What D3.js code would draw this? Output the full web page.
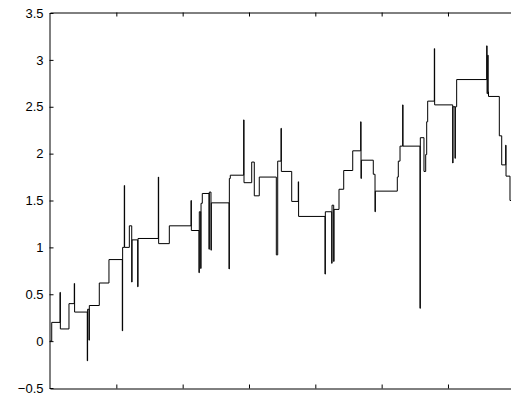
<!DOCTYPE html>
<html>
<head>
<meta charset="utf-8">
<script src="https://cdn.jsdelivr.net/npm/d3@7.9.0/dist/d3.min.js"></script>
<style>
  html, body { margin: 0; padding: 0; background: #fff; overflow: hidden; }
  svg { display: block; font-family: "Liberation Sans", Arial, Helvetica, sans-serif; }
</style>
</head>
<body>
<div id="chart"></div>
<script>
// step signal: time (breakpoints) and value held from that time on
const stepT = [
  0, 0.026, 0.151, 0.156, 0.286, 0.366, 0.371, 0.562, 0.567, 0.588, 0.593,
  0.743, 0.889, 1.090, 1.095, 1.120, 1.125, 1.196, 1.232, 1.237, 1.322, 1.327,
  1.633, 1.638, 1.799, 2.126, 2.131, 2.246, 2.251, 2.272, 2.277, 2.296,
  2.397, 2.402, 2.427, 2.432, 2.699, 2.704, 2.718, 2.920, 2.925, 3.041,
  3.080, 3.155, 3.412, 3.433, 3.483, 3.488, 3.644, 3.743, 3.748,
  4.146, 4.151, 4.247, 4.252, 4.277, 4.282, 4.357, 4.428, 4.564,
  4.684, 4.689, 4.694, 4.874, 4.900, 4.905, 5.236, 5.251, 5.277, 5.317, 5.322,
  5.578, 5.583, 5.638, 5.664, 5.679, 5.694, 5.794, 5.799,
  6.071, 6.076, 6.106, 6.111, 6.131, 6.584, 6.589, 6.600, 6.605, 6.611,
  6.774, 6.810, 6.870, 6.875, 6.935, 7.0
];
const stepV = [
  0, 0.20, 0.52, 0.13, 0.40, 0.615, 0.31, -0.21, 0.34, 0.01, 0.38,
  0.62, 0.87, 0.11, 1.00, 1.66, 1.00, 1.23, 0.63, 1.08, 0.58, 1.095,
  1.75, 1.04, 1.23, 1.50, 1.18, 0.73, 1.38, 0.775, 1.47, 1.575,
  0.98, 1.59, 0.97, 1.475, 0.77, 1.735, 1.77, 2.36, 1.69, 1.91,
  1.55, 1.75, 0.92, 1.92, 2.27, 1.81, 1.49, 1.70, 1.33,
  0.715, 1.38, 0.83, 1.45, 0.85, 1.405, 1.62, 1.82, 2.03,
  2.34, 1.735, 1.93, 1.78, 1.38, 1.60, 1.75, 1.92, 2.08, 2.52, 2.08,
  0.35, 2.17, 1.81, 1.99, 2.34, 2.56, 3.12, 2.52,
  1.90, 2.50, 1.95, 2.50, 2.79, 3.15, 2.64, 3.05, 2.66, 2.61,
  2.19, 1.88, 2.09, 1.76, 1.50, 1.50
];

const yTicks = [-0.5, 0, 0.5, 1, 1.5, 2, 2.5, 3, 3.5];
const xTicks = [1, 2, 3, 4, 5, 6];

const width = 511;
const height = 403;
const margin = { top: 13, left: 50, bottom: 15 };
const unit = 66.33; // px per x unit

const svg = d3.select('#chart')
  .append('svg')
  .attr('width', width)
  .attr('height', height);

const x = d3.scaleLinear()
  .domain([0, 7])
  .range([margin.left, margin.left + 7 * unit]);

const y = d3.scaleLinear()
  .domain([-0.5, 3.5])
  .range([height - margin.bottom, margin.top]);

const data = stepT.map((t, i) => ({ t, v: stepV[i] }));

// line
const line = d3.line()
  .x(d => x(d.t))
  .y(d => y(d.v))
  .curve(d3.curveStepAfter);

svg.append('path')
  .datum(data)
  .attr('fill', 'none')
  .attr('stroke', '#000')
  .attr('stroke-width', 1)
  .attr('d', line);

// axes (box style, ticks pointing inward)
const yAxis = svg.append('g')
  .attr('transform', `translate(${margin.left - 0.5},0)`)
  .call(d3.axisLeft(y).tickValues(yTicks).tickSize(-4).tickSizeOuter(0)
    .tickPadding(6).tickFormat(d3.format('~g')));

const topAxis = svg.append('g')
  .attr('transform', `translate(0,${margin.top - 0.5})`)
  .call(d3.axisBottom(x).tickValues(xTicks).tickSize(4).tickSizeOuter(0).tickFormat(''));

const bottomAxis = svg.append('g')
  .attr('transform', `translate(0,${height - margin.bottom + 0.5})`)
  .call(d3.axisTop(x).tickValues(xTicks).tickSize(4).tickSizeOuter(0).tickFormat(''));

[yAxis, topAxis, bottomAxis].forEach(g => {
  g.selectAll('path, line').attr('stroke', '#000');
});

yAxis.selectAll('text')
  .attr('font-size', 13)
  .attr('fill', '#000')
  .attr('font-family', '"Liberation Sans", Arial, Helvetica, sans-serif');
</script>
</body>
</html>
